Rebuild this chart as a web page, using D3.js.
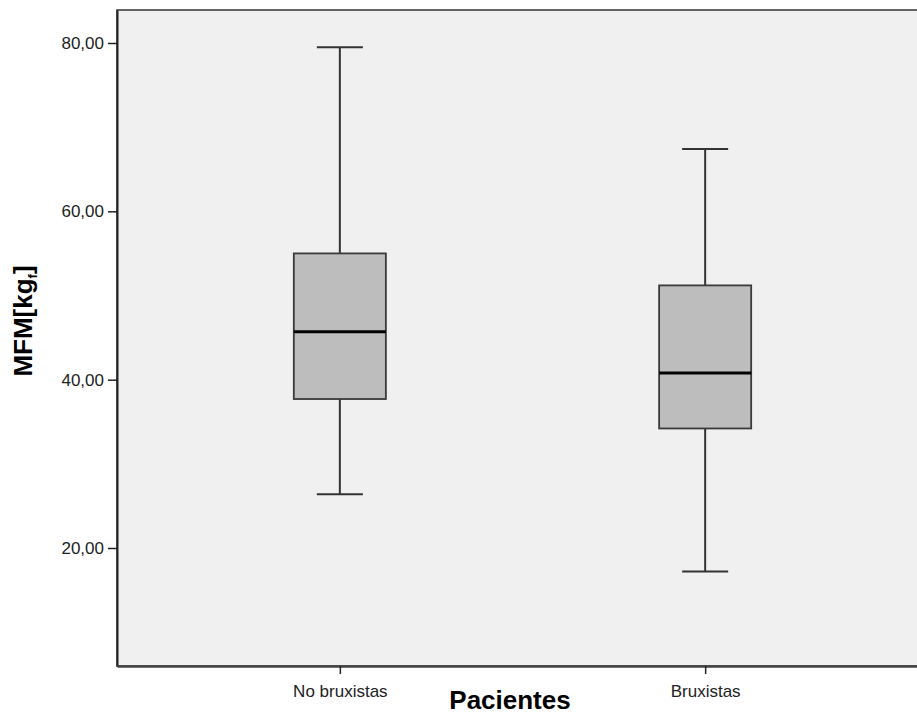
<!DOCTYPE html>
<html>
<head>
<meta charset="utf-8">
<script src="https://cdn.jsdelivr.net/npm/d3@7"></script>
<style>
  body { margin: 0; background: #fff; }
  text { font-family: Arial, "Liberation Sans", sans-serif; }
</style>
</head>
<body>
<div id="chart"></div>
<script>
// values
var categories = ["No bruxistas", "Bruxistas"];
var whiskerLow = [26.4, 17.2];
var q1 = [37.7, 34.2];
var median = [45.7, 40.8];
var q3 = [55.0, 51.2];
var whiskerHigh = [79.5, 67.4];
var yTicks = [20, 40, 60, 80];

var data = categories.map(function (c, i) {
    return { name: c, lo: whiskerLow[i], q1: q1[i], med: median[i], q3: q3[i], hi: whiskerHigh[i] };
});

var W = 917, H = 717;
var margin = { top: 10, left: 117 },
    plotRight = 928,
    plotBottom = 666;

var svg = d3.select("#chart").append("svg")
    .attr("width", W)
    .attr("height", H);

var x = d3.scalePoint()
    .domain(categories)
    .range([margin.left, plotRight])
    .padding(0.61);

var y = d3.scaleLinear()
    .domain([5.98, 83.92])
    .range([plotBottom, margin.top]);

// plot background
svg.append("rect")
    .attr("x", margin.left)
    .attr("y", margin.top)
    .attr("width", plotRight - margin.left)
    .attr("height", plotBottom - margin.top)
    .attr("fill", "#f0f0f0")
    .attr("stroke", "#333")
    .attr("stroke-width", 1.5);

var boxW = x.step() * 0.252;
var capW = boxW / 2;

var g = svg.selectAll(".box")
    .data(data)
    .enter().append("g")
    .attr("class", "box");

// whiskers
g.append("line")
    .attr("x1", function (d) { return x(d.name); })
    .attr("x2", function (d) { return x(d.name); })
    .attr("y1", function (d) { return y(d.hi); })
    .attr("y2", function (d) { return y(d.q3); })
    .attr("stroke", "#333").attr("stroke-width", 2);
g.append("line")
    .attr("x1", function (d) { return x(d.name); })
    .attr("x2", function (d) { return x(d.name); })
    .attr("y1", function (d) { return y(d.q1); })
    .attr("y2", function (d) { return y(d.lo); })
    .attr("stroke", "#333").attr("stroke-width", 2);

// caps
["hi", "lo"].forEach(function (k) {
    g.append("line")
        .attr("x1", function (d) { return x(d.name) - capW / 2; })
        .attr("x2", function (d) { return x(d.name) + capW / 2; })
        .attr("y1", function (d) { return y(d[k]); })
        .attr("y2", function (d) { return y(d[k]); })
        .attr("stroke", "#333").attr("stroke-width", 2);
});

// boxes
g.append("rect")
    .attr("x", function (d) { return x(d.name) - boxW / 2; })
    .attr("width", boxW)
    .attr("y", function (d) { return y(d.q3); })
    .attr("height", function (d) { return y(d.q1) - y(d.q3); })
    .attr("fill", "#bdbdbd")
    .attr("stroke", "#3a3a3a")
    .attr("stroke-width", 1.8);

// medians
g.append("line")
    .attr("x1", function (d) { return x(d.name) - boxW / 2; })
    .attr("x2", function (d) { return x(d.name) + boxW / 2; })
    .attr("y1", function (d) { return y(d.med); })
    .attr("y2", function (d) { return y(d.med); })
    .attr("stroke", "#000").attr("stroke-width", 3);

// y axis
var yAxis = svg.append("g")
    .attr("transform", "translate(" + margin.left + ",0)")
    .call(d3.axisLeft(y)
        .tickValues(yTicks)
        .tickSize(9)
        .tickSizeOuter(0)
        .tickPadding(4)
        .tickFormat(function (d) { return d3.format(".2f")(d).replace(".", ","); }));
yAxis.select(".domain").attr("stroke", "#222").attr("stroke-width", 2);
yAxis.selectAll(".tick line").attr("stroke", "#222").attr("stroke-width", 1.5);
yAxis.selectAll(".tick text")
    .attr("fill", "#222")
    .style("font-size", "17px")
    .style("font-family", "Arial, 'Liberation Sans', sans-serif");

// x axis
var xAxis = svg.append("g")
    .attr("transform", "translate(0," + plotBottom + ")")
    .call(d3.axisBottom(x).tickSize(8).tickPadding(11).tickSizeOuter(0));
xAxis.select(".domain").attr("stroke", "#444").attr("stroke-width", 2.5);
xAxis.selectAll(".tick line").attr("stroke", "#222").attr("stroke-width", 1.5);
xAxis.selectAll(".tick text")
    .attr("fill", "#222")
    .style("font-size", "17px")
    .style("font-family", "Arial, 'Liberation Sans', sans-serif");

// axis titles
svg.append("text")
    .attr("x", 510)
    .attr("y", 709)
    .attr("text-anchor", "middle")
    .style("font-size", "26px")
    .style("font-weight", "bold")
    .text("Pacientes");

var yl = svg.append("text")
    .attr("transform", "translate(32,321) rotate(-90)")
    .attr("text-anchor", "middle")
    .style("font-size", "26px")
    .style("font-weight", "bold");
yl.append("tspan").text("MFM[kg");
yl.append("tspan").attr("dy", 5).style("font-size", "13px").text("f");
yl.append("tspan").attr("dy", -5).text("]");
</script>
</body>
</html>
